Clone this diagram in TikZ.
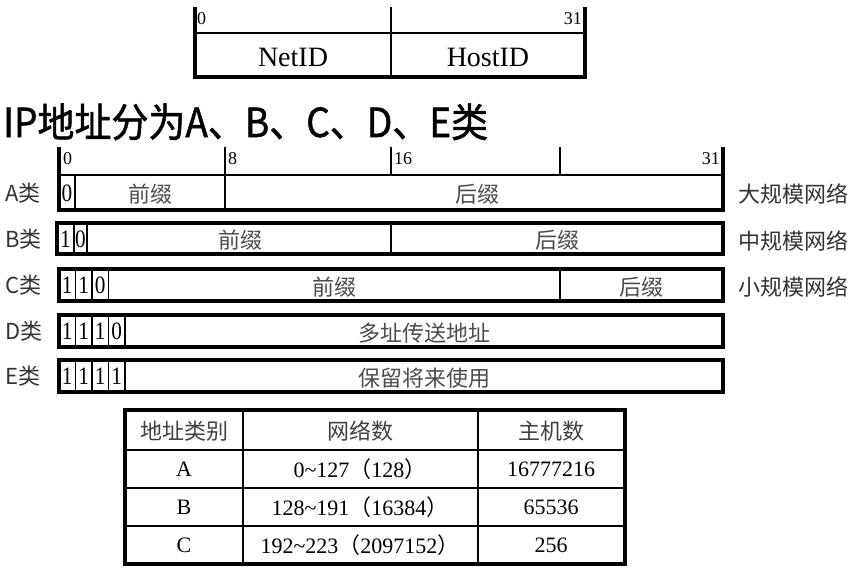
\documentclass[tikz,border=0pt]{standalone}
\usepackage{fontspec}
\setmainfont{Liberation Serif}
\newfontfamily\cjk{Noto Sans CJK SC}
\newfontfamily\cjktitle[FakeBold=1.3]{Noto Sans CJK SC}
\usetikzlibrary{positioning}

\begin{document}
\begin{tikzpicture}[x=1pt,y=-1pt]
	\tikzset{
		heavy/.style={line width=3.5pt},
		light/.style={line width=1.5pt},
		bitnum/.style={font=\fontsize{25}{25}\selectfont, inner sep=0pt, xscale=0.85},
		ticknum/.style={font=\fontsize{18}{18}\selectfont, inner sep=0pt, anchor=north west},
		fieldtxt/.style={font=\cjk\fontsize{22}{22}\selectfont, text=black!70, inner sep=0pt},
		sidetxt/.style={font=\cjk\fontsize{22}{22}\selectfont, text=black!80, inner sep=0pt},
		celltxt/.style={font=\fontsize{22}{22}\selectfont, inner sep=0pt},
		headtxt/.style={font=\cjk\fontsize{22}{22}\selectfont, text=black!75, inner sep=0pt}
	}
	\useasboundingbox (0,0) rectangle (855,568);
	% NetID / HostID
	\draw[light] (195,33) -- (585,33);
	\draw[heavy] (195,7) -- (195,77) -- (585,77) -- (585,7);
	\draw[light] (391,7) -- (391,77);
	\node[ticknum] (top0) at (197,12) {0};
	\node[ticknum, anchor=north east] (top31) at (582,12) {31};
	\node[font=\fontsize{28}{28}\selectfont] (netid) at (293,57) {NetID};
	\node[font=\fontsize{28}{28}\selectfont] (hostid) at (488,57) {HostID};
	% title
	\node[font=\cjktitle\fontsize{40}{40}\selectfont, anchor=base west, inner sep=0pt, xscale=0.925] (title) at (3,137) {IP地址分为A、B、C、D、E类};
	% bit ruler
	\draw[heavy] (59,147) -- (59,210) -- (723,210) -- (723,147);
	\draw[line width=2.5pt] (59,175) -- (723,175);
	\draw[light] (225,147) -- (225,210);
	\draw[light] (391,147) -- (391,175);
	\draw[light] (560,147) -- (560,175);
	\node[ticknum] (r0) at (63,152) {0};
	\node[ticknum] (r8) at (228,152) {8};
	\node[ticknum] (r16) at (394,152) {16};
	\node[ticknum, anchor=north east] (r31) at (720,152) {31};
	% class A
	\draw[light] (75,175) -- (75,210);
	\node[bitnum] (a1) at (67,193) {0};
	\node[fieldtxt] (apre) at (150,194) {前缀};
	\node[fieldtxt] (asuf) at (477,194) {后缀};
	\node[sidetxt, anchor=west] (aname) at (5,193) {A类};
	\node[sidetxt, anchor=west] (asize) at (738,194) {大规模网络};
	% class B
	\draw[heavy] (57,223) rectangle (723,254);
	\draw[light] (74,223) -- (74,254) (87,223) -- (87,254) (391,223) -- (391,254);
	\node[bitnum] (b1) at (65.5,239) {1};
	\node[bitnum] (b2) at (80.5,239) {0};
	\node[fieldtxt] (bpre) at (240,240) {前缀};
	\node[fieldtxt] (bsuf) at (557,240) {后缀};
	\node[sidetxt, anchor=west] (bname) at (5,239) {B类};
	\node[sidetxt, anchor=west] (bsize) at (738,241) {中规模网络};
	% class C
	\draw[heavy] (59,269) rectangle (723,301);
	\draw[light] (75.5,269) -- (75.5,301) (92,269) -- (92,301) (108.5,269) -- (108.5,301) (560,269) -- (560,301);
	\foreach \b/\x [count=\i] in {1/67.3, 1/83.8, 0/100.3}
		\node[bitnum] (c\i) at (\x,285) {\b};
	\node[fieldtxt] (cpre) at (334,287) {前缀};
	\node[fieldtxt] (csuf) at (641,287) {后缀};
	\node[sidetxt, anchor=west] (cname) at (5,285) {C类};
	\node[sidetxt, anchor=west] (csize) at (738,287) {小规模网络};
	% class D
	\draw[heavy] (59,315) rectangle (723,347);
	\foreach \x in {75.5, 92, 108.5, 125}
		\draw[light] (\x,315) -- (\x,347);
	\foreach \b/\x [count=\i] in {1/67.3, 1/83.8, 1/100.3, 0/116.8}
		\node[bitnum] (d\i) at (\x,331) {\b};
	\node[fieldtxt] (dtxt) at (424,333) {多址传送地址};
	\node[sidetxt, anchor=west] (dname) at (5,331) {D类};
	% class E
	\draw[heavy] (59,360) rectangle (723,392);
	\foreach \x in {75.5, 92, 108.5, 125}
		\draw[light] (\x,360) -- (\x,392);
	\foreach \b/\x [count=\i] in {1/67.3, 1/83.8, 1/100.3, 1/116.8}
		\node[bitnum] (e\i) at (\x,376) {\b};
	\node[fieldtxt] (etxt) at (424,378) {保留将来使用};
	\node[sidetxt, anchor=west] (ename) at (5,376) {E类};
	% table
	\draw[heavy] (125,410) rectangle (625,564);
	\draw[light] (243,410) -- (243,564) (478,410) -- (478,564);
	\draw[light] (125,450) -- (625,450) (125,488) -- (625,488) (125,526) -- (625,526);
	\node[headtxt] (hcls) at (184,431) {地址类别};
	\node[headtxt] (hnet) at (360,431) {网络数};
	\node[headtxt] (hhost) at (551,431) {主机数};
	\foreach \cls/\nets/\hosts [count=\i] in {A/0\textasciitilde127{\cjk（}128{\cjk）}/16777216, B/128\textasciitilde191{\cjk（}16384{\cjk）}/65536, C/192\textasciitilde223{\cjk（}2097152{\cjk）}/256}
	{
		\node[celltxt] (cls\i) at (184,431+38*\i) {\cls};
		\node[celltxt] (nets\i) at (360,431+38*\i) {\nets};
		\node[celltxt] (hosts\i) at (551,431+38*\i) {\hosts};
	}
\end{tikzpicture}
\end{document}
